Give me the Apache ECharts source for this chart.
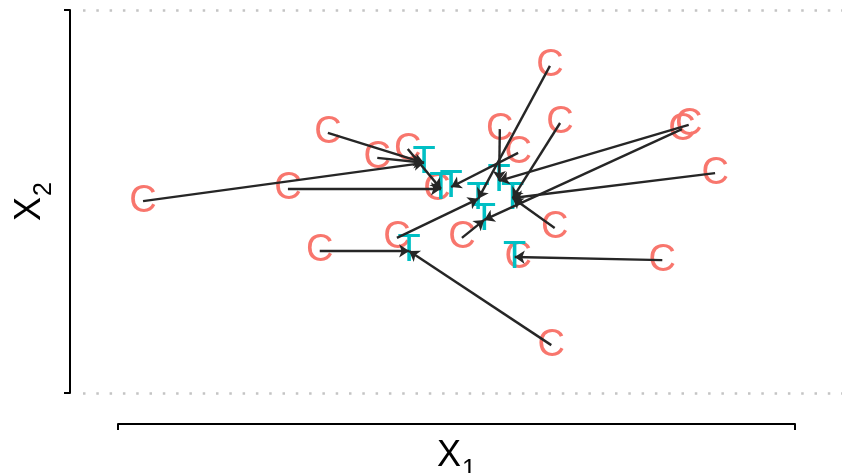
<!DOCTYPE html>
<html>
<head>
<meta charset="utf-8">
<script src="https://cdn.jsdelivr.net/npm/echarts@6/dist/echarts.min.js"></script>
<style>
  html, body { margin: 0; padding: 0; background: #fff; }
  #chart { width: 842px; height: 473px; }
</style>
</head>
<body>
<div id="chart"></div>
<script>
// Control units (drawn as "C") in covariate space
const controlX1 = [0.37, 2.51, 3.10, 3.83, 4.28, 4.71, 5.64, 5.91, 6.38, 6.53,
                   8.43, 8.33, 8.82, 6.45, 5.08, 4.12, 2.98, 5.91, 8.04, 6.40];
const controlX2 = [5.01, 5.33, 6.79, 6.14, 6.37, 5.30, 6.89, 6.27, 8.54, 7.05,
                   7.00, 6.89, 5.74, 4.31, 4.05, 4.05, 3.71, 3.55, 3.47, 1.25];

// Treated units (drawn as "T")
const treatedX1 = [4.52, 4.77, 4.92, 5.32, 5.63, 5.83, 5.41, 4.30, 5.86];
const treatedX2 = [6.01, 5.33, 5.38, 5.07, 5.54, 5.09, 4.52, 3.71, 3.55];

// Treated unit each control is linked to (-1: no link drawn)
const matchTo = [0, 1, 0, 0, 1, -1, 4, 2, 3, 5,
                 4, 6, 5, 5, 6, 3, 7, -1, 8, 7];

const controlPts = controlX1.map((x, i) => [x, controlX2[i]]);
const treatedPts = treatedX1.map((x, i) => [x, treatedX2[i]]);
const links = [];
matchTo.forEach((t, i) => {
  if (t < 0) return;
  links.push({ coords: [controlPts[i], treatedPts[t]] });
});

const FONT = 'Liberation Sans, Arial, Helvetica, sans-serif';
const nameRich = {
  x: { fontSize: 36, lineHeight: 36, fontFamily: FONT, color: '#000' },
  s: { fontSize: 25, lineHeight: 25, padding: [28, 0, 0, 1], fontFamily: FONT, color: '#000' }
};
const bracketLine = { show: true, onZero: false, lineStyle: { color: '#000', width: 2 } };
const bracketTick = { show: true, length: 6, inside: false, lineStyle: { color: '#000', width: 2 } };
// Invisible point symbols; only the letter labels show
const hiddenSymbol = { color: 'rgba(0,0,0,0)', opacity: 1 };

const chart = echarts.init(document.getElementById('chart'), null, { renderer: 'canvas' });
chart.setOption({
  animation: false,
  backgroundColor: '#fff',
  grid: [
    { left: 83, right: 0, top: 10, bottom: 80, outerBoundsMode: 'none', containLabel: false },
    { left: 118, right: 47, top: 10, bottom: 80, outerBoundsMode: 'none', containLabel: false }
  ],
  xAxis: [
    { gridIndex: 0, type: 'value', min: 0, max: 1, show: false },
    {
      gridIndex: 1, type: 'value', min: 0, max: 10, interval: 10, offset: 31,
      axisLine: bracketLine, axisTick: bracketTick,
      axisLabel: { show: false }, splitLine: { show: false },
      name: '{x|X}{s|1}', nameLocation: 'middle', nameGap: 14,
      nameTextStyle: { rich: nameRich }
    }
  ],
  yAxis: [
    {
      gridIndex: 0, type: 'value', min: 0, max: 10, interval: 10,
      axisLine: { show: false }, axisTick: { show: false }, axisLabel: { show: false },
      splitLine: { show: true, lineStyle: { color: '#c4c4c4', width: 2.5, type: [2.5, 10.8] } }
    },
    {
      gridIndex: 1, type: 'value', min: 0, max: 10, interval: 10, offset: 48,
      axisLine: bracketLine, axisTick: bracketTick,
      axisLabel: { show: false }, splitLine: { show: false },
      name: '{x|X}{s|2}', nameLocation: 'middle', nameGap: 22,
      nameTextStyle: { rich: nameRich }
    }
  ],
  series: [
    {
      name: 'Control', type: 'scatter', xAxisIndex: 1, yAxisIndex: 1,
      data: controlPts, symbolSize: 1, itemStyle: hiddenSymbol,
      label: { show: true, position: 'inside', formatter: 'C', color: '#F8766D',
               fontSize: 38, fontFamily: FONT },
      z: 2
    },
    {
      name: 'Treated', type: 'scatter', xAxisIndex: 1, yAxisIndex: 1,
      data: treatedPts, symbolSize: 1, itemStyle: hiddenSymbol,
      label: { show: true, position: 'inside', formatter: 'T', color: '#00BFC4',
               fontSize: 38, fontFamily: FONT },
      z: 3
    },
    {
      name: 'Match', type: 'lines', coordinateSystem: 'cartesian2d',
      xAxisIndex: 1, yAxisIndex: 1, data: links,
      symbol: ['none', 'arrow'], symbolSize: 10,
      lineStyle: { color: '#262626', width: 2.4, opacity: 1 },
      z: 4
    }
  ]
});
</script>
</body>
</html>
